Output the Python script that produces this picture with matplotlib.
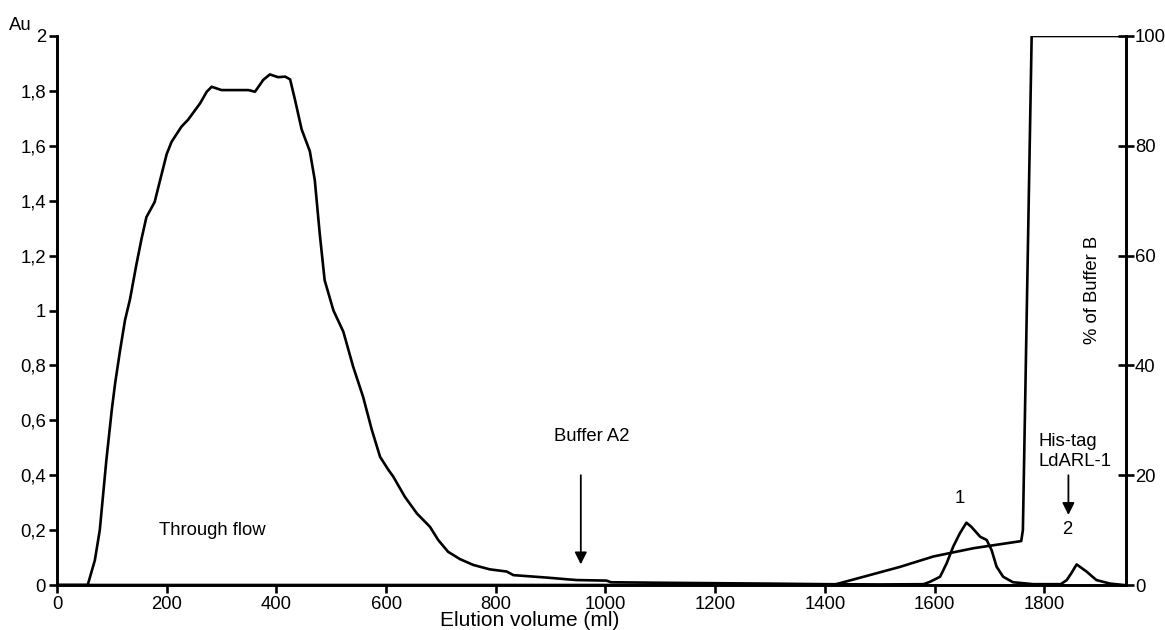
import matplotlib
matplotlib.use("Agg")
import matplotlib.pyplot as plt
from matplotlib.ticker import FuncFormatter

plt.rcParams['font.family'] = ['Liberation Sans', 'DejaVu Sans']

# absorbance trace (Au) vs elution volume (ml)
vol = [0, 56, 69, 78, 90, 100, 106, 115, 124, 133,
       145, 154, 163, 178, 188, 200, 209, 227, 239, 261,
       273, 282, 300, 349, 361, 376, 388, 403, 416, 425,
       434, 446, 461, 470, 479, 488, 504, 522, 540, 558,
       574, 589, 604, 613, 634, 656, 680, 695, 713, 735,
       759, 789, 820, 832, 893, 947, 1002, 1010, 1111, 1300,
       1400, 1500, 1580, 1592, 1610, 1622, 1634, 1646, 1658, 1667,
       1683, 1695, 1704, 1713, 1725, 1743, 1780, 1830, 1841, 1850,
       1859, 1868, 1877, 1895, 1920, 1945]
au = [0, 0, 0.09, 0.2, 0.455, 0.64, 0.735, 0.855, 0.965, 1.04,
      1.17, 1.26, 1.34, 1.395, 1.475, 1.57, 1.615, 1.67, 1.695, 1.755,
      1.797, 1.815, 1.803, 1.803, 1.797, 1.84, 1.86, 1.85, 1.852, 1.842,
      1.767, 1.66, 1.58, 1.475, 1.28, 1.11, 1.0, 0.923, 0.795, 0.686,
      0.565, 0.467, 0.42, 0.395, 0.322, 0.261, 0.212, 0.164, 0.121, 0.094,
      0.073, 0.057, 0.049, 0.036, 0.027, 0.018, 0.016, 0.01, 0.008, 0.005,
      0.003, 0.002, 0.003, 0.012, 0.03, 0.079, 0.14, 0.188, 0.227, 0.212,
      0.176, 0.164, 0.127, 0.067, 0.03, 0.01, 0.003, 0.003, 0.018, 0.045,
      0.075, 0.062, 0.049, 0.018, 0.005, 0.0]

# gradient (% of buffer B)
vol_b = [0, 1415, 1537, 1598, 1671, 1758, 1761, 1777, 1949]
pct_b = [0, 0, 3.3, 5.2, 6.7, 8.0, 10, 100, 100]

left_ticks = [0, 0.2, 0.4, 0.6, 0.8, 1.0, 1.2, 1.4, 1.6, 1.8, 2.0]
right_ticks = [0, 20, 40, 60, 80, 100]
x_ticks = [0, 200, 400, 600, 800, 1000, 1200, 1400, 1600, 1800]

fs = 13.3
lw = 1.9

fig = plt.figure(figsize=(11.65, 6.3), dpi=100)
ax = fig.add_axes([57 / 1165, 1 - 585 / 630, (1126 - 57) / 1165, (585 - 36) / 630])
ax2 = ax.twinx()

ax.plot(vol, au, color='black', lw=lw, zorder=3)
ax2.plot(vol_b, pct_b, color='black', lw=lw, zorder=3)

ax.set_xlim(0, 1949)
ax.set_ylim(0, 2)
ax2.set_ylim(0, 100)

for a in (ax, ax2):
    a.spines['top'].set_visible(False)
    for s in ('left', 'right', 'bottom'):
        a.spines[s].set_linewidth(1.9)

ax.set_xticks(x_ticks)
ax.set_yticks(left_ticks)
ax2.set_yticks(right_ticks)


def comma(v, pos):
    if abs(v - round(v)) < 1e-9:
        return '%d' % round(v)
    return ('%.1f' % v).replace('.', ',')


ax.yaxis.set_major_formatter(FuncFormatter(comma))
ax.tick_params(axis='both', direction='out', length=6, width=1.9, labelsize=fs, pad=2)
ax2.tick_params(axis='y', direction='inout', length=11, width=1.9, labelsize=fs, pad=1)

ax.set_xlabel('Elution volume (ml)', fontsize=15, labelpad=0)
ax.xaxis.set_label_coords(0.4425, -0.047)

ax.text(-0.045, 1.02, 'Au', transform=ax.transAxes, fontsize=fs, ha='left', va='center')
ax.text(0.969, 0.537, '% of Buffer B', transform=ax.transAxes, fontsize=fs,
        rotation=90, ha='center', va='center')

ax.text(186, 0.2, 'Through flow', fontsize=fs, ha='left', va='center')
ax.text(975, 0.54, 'Buffer A2', fontsize=fs, ha='center', va='center')
ax.annotate('', xy=(955, 0.065), xytext=(955, 0.41),
            arrowprops=dict(arrowstyle='-|>', color='black', lw=1.3,
                            mutation_scale=18))
ax.text(1646, 0.315, '1', fontsize=fs, ha='center', va='center')
ax.text(1790, 0.487, 'His-tag\nLdARL-1', fontsize=fs, ha='left', va='center',
        linespacing=1.25)
ax.annotate('', xy=(1844, 0.245), xytext=(1844, 0.41),
            arrowprops=dict(arrowstyle='-|>', color='black', lw=1.3,
                            mutation_scale=18))
ax.text(1841, 0.204, '2', fontsize=fs, ha='center', va='center')

plt.savefig('out.png', dpi=100)
